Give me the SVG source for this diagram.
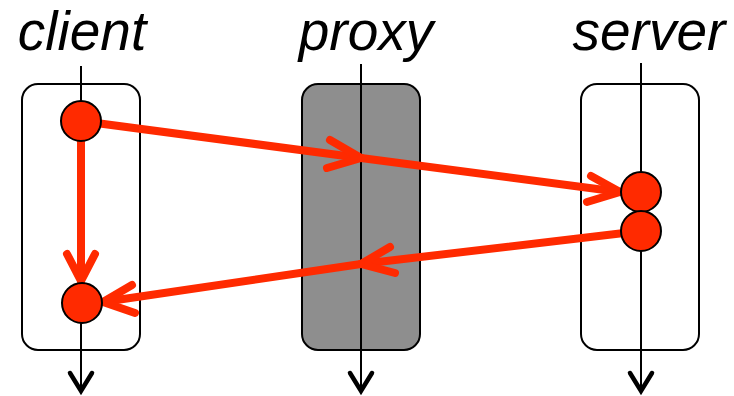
<svg xmlns="http://www.w3.org/2000/svg" width="734" height="396" viewBox="0 0 734 396">
<defs>
<style>
.lbl{font-family:"Liberation Sans",Arial,sans-serif;font-style:italic;font-size:55px;fill:#000;text-anchor:middle}
.box{stroke:#000;stroke-width:2;fill:#fff}
.tl{stroke:#000;stroke-width:2;fill:none}
.dot{fill:#ff2a00;stroke:#000;stroke-width:2}
.msg{stroke:#ff2a00;stroke-width:8;fill:none;stroke-linecap:round;stroke-linejoin:round}
.bh{stroke:#000;stroke-width:4.5;fill:none;stroke-linecap:round;stroke-linejoin:miter}
</style>
</defs>
<g id="client">
<text class="lbl" x="82" y="50">client</text>
<rect class="box" x="22" y="84" width="118" height="266" rx="16"/>
<line class="tl" x1="81" y1="66" x2="81" y2="391"/>
<polyline class="bh" points="70,373 81,391 92,373"/>
</g>
<g id="proxy">
<text class="lbl" x="366" y="50">proxy</text>
<rect class="box" x="302" y="84" width="118" height="266" rx="16" style="fill:#8e8e8e"/>
<line class="tl" x1="361" y1="64" x2="361" y2="391"/>
<polyline class="bh" points="350,373 361,391 372,373"/>
</g>
<g id="server">
<text class="lbl" x="649" y="50">server</text>
<rect class="box" x="581" y="84" width="118" height="266" rx="16"/>
<line class="tl" x1="641" y1="63" x2="641" y2="391"/>
<polyline class="bh" points="630,373 641,391 652,373"/>
</g>
<g id="connectors">
<line class="msg" x1="81" y1="121" x2="361" y2="158"/>
<polyline class="msg" points="330,140 361,158 327,168"/>
<line class="msg" x1="361" y1="158" x2="620" y2="192"/>
<polyline class="msg" points="591,176 620,192 587,202"/>
<line class="msg" x1="641" y1="231" x2="361" y2="264"/>
<polyline class="msg" points="390,247 361,264 395,273"/>
<line class="msg" x1="361" y1="264" x2="103" y2="302"/>
<polyline class="msg" points="132,285 103,302 135,313"/>
<line class="msg" x1="81" y1="121" x2="81" y2="281"/>
<polyline class="msg" points="67,254 81,281 95,254"/>
</g>
<g id="dots">
<circle class="dot" cx="81" cy="121" r="20"/>
<circle class="dot" cx="82" cy="303" r="20"/>
<circle class="dot" cx="641" cy="192" r="20"/>
<circle class="dot" cx="641" cy="231" r="20"/>
</g>
</svg>
